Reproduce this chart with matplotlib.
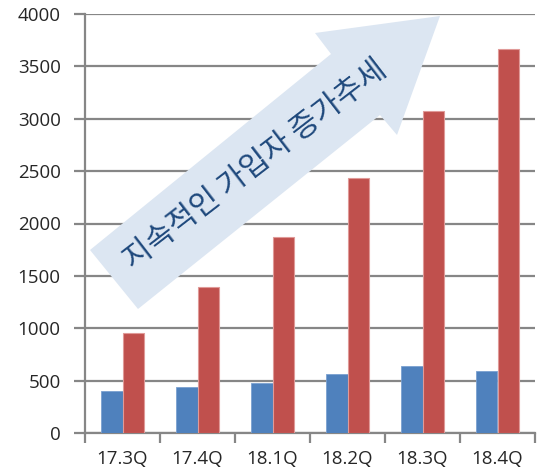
import matplotlib
matplotlib.use("Agg")
import matplotlib.pyplot as plt
import numpy as np
from matplotlib.patches import Polygon

plt.rcParams['font.family'] = ['Open Sans', 'Noto Sans CJK KR', 'DejaVu Sans']

categories = ["17.3Q", "17.4Q", "18.1Q", "18.2Q", "18.3Q", "18.4Q"]
series_blue = [400, 440, 480, 560, 640, 595]
series_red = [950, 1390, 1870, 2430, 3070, 3670]
yticks = [0, 500, 1000, 1500, 2000, 2500, 3000, 3500, 4000]
arrow_text = "지속적인 가입자 증가추세"

W, H = 538, 475
fig = plt.figure(figsize=(W / 100, H / 100), dpi=100)
ax = fig.add_axes([85 / W, (H - 433) / H, 450 / W, 419 / H])

x = np.arange(len(categories))
bw = 0.287
ax.bar(x - bw / 2, series_blue, bw, color="#4f81bd", edgecolor="#7aa0d0", linewidth=0.6, zorder=3)
ax.bar(x + bw / 2, series_red, bw, color="#c0504d", edgecolor="#e09a98", linewidth=0.8, zorder=3)

ax.set_xlim(-0.5, len(categories) - 0.5)
ax.set_ylim(0, 4000)
ax.set_yticks(yticks)
ax.set_yticklabels([str(v) for v in yticks])
ax.set_xticks(x)
ax.set_xticklabels(categories)
ax.set_xticks(np.arange(-0.5, len(categories), 1.0), minor=True)

gc = "#868686"
ax.yaxis.grid(True, color=gc, linewidth=1.6, zorder=0)
ax.set_axisbelow(True)
for s in ["top", "right"]:
    ax.spines[s].set_visible(False)
for s in ["left", "bottom"]:
    ax.spines[s].set_color(gc)
    ax.spines[s].set_linewidth(1.6)
ax.tick_params(axis="y", length=8, width=1.6, color=gc, pad=9.5, labelsize=13.5, labelcolor="#262626")
ax.tick_params(axis="x", which="major", length=0, pad=12, labelsize=13.5, labelcolor="#262626")
ax.tick_params(axis="x", which="minor", length=7, width=1.6, color=gc)

# decorative arrow (figure pixel coordinates, from top-left)
pts = [(90, 250), (331, 54), (315, 33), (440, 16), (397, 135), (380, 115), (138, 309)]
fpts = [(px / W, 1 - py / H) for px, py in pts]
fig.patches.append(Polygon(fpts, closed=True, transform=fig.transFigure,
                           facecolor="#dce6f2", edgecolor="none", zorder=5))
fig.text(256 / W, 1 - 165 / H, arrow_text, rotation=37.6, rotation_mode="anchor",
         ha="center", va="center", fontsize=22, color="#1f497d", zorder=6,
         family=['Noto Sans CJK KR', 'DejaVu Sans'], fontweight="light")

fig.savefig("out.png", dpi=100)
